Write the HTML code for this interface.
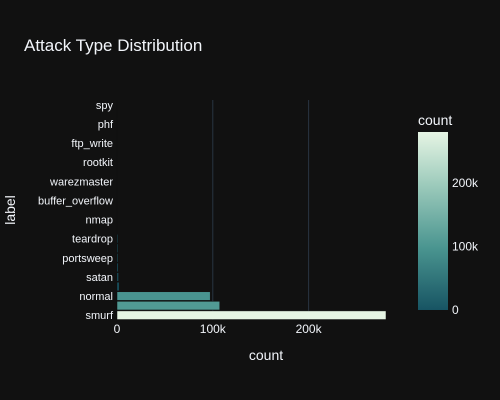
<!DOCTYPE html>
<html><head><meta charset="utf-8"><style>
body{margin:0;background:#111111;}
svg{display:block;font-family:"Liberation Sans",sans-serif;}
</style></head><body>
<svg id="chart" width="500" height="400">
<defs><linearGradient id="cs" x1="0" y1="1" x2="0" y2="0">
<stop offset="0" stop-color="#175463"/><stop offset="0.35" stop-color="#4a9590"/><stop offset="0.7" stop-color="#9ccabb"/><stop offset="1" stop-color="#e6f5e4"/></linearGradient></defs>
<rect width="500" height="400" fill="#111111"/>
<text x="24" y="51" fill="#f2f5fa" font-size="17">Attack Type Distribution</text>
<g id="grid"></g><g id="bars"></g><g id="ylabels"></g><g id="xlabels"></g>
<text x="266" y="360" fill="#f2f5fa" font-size="14" text-anchor="middle">count</text>
<text transform="translate(15,210) rotate(-90)" fill="#f2f5fa" font-size="14" text-anchor="middle">label</text>
<rect x="418" y="132" width="30" height="178" fill="url(#cs)"/>
<text x="418" y="125" fill="#f2f5fa" font-size="14">count</text>
<g id="cbticks"></g>
</svg>
<script>
const categories=["smurf","neptune","normal","back","satan","ipsweep","portsweep","warezclient","teardrop","pod","nmap","guess_passwd","buffer_overflow","land","warezmaster","imap","rootkit","loadmodule","ftp_write","multihop","phf","perl","spy"];
const counts=[280790,107201,97278,2203,1589,1247,1040,1020,979,264,231,53,30,21,20,12,10,9,8,7,4,3,2];
const xTicks=[0,100000,200000];
const xTickLabels=["0","100k","200k"];
const cbTicks=[0,100000,200000];
const cbTickLabels=["0","100k","200k"];
const NS="http://www.w3.org/2000/svg";
const x0=117,kx=0.000958;
const X=v=>x0+v*kx;
const yTop=100,yBot=320,step=(yBot-yTop)/categories.length;
const Y=i=>yBot-(i+0.5)*step;
const cbMax=Math.max(...counts),cbY=v=>310-v/cbMax*178;
function lerp(a,b,t){return Math.round(a+(b-a)*t);}
const stops=[[0,[23,84,99]],[0.35,[74,149,144]],[0.7,[156,202,187]],[1,[230,245,228]]];
function color(v){const t=v/cbMax;for(let i=1;i<stops.length;i++){if(t<=stops[i][0]){const a=stops[i-1],b=stops[i],u=(t-a[0])/(b[0]-a[0]);return `rgb(${lerp(a[1][0],b[1][0],u)},${lerp(a[1][1],b[1][1],u)},${lerp(a[1][2],b[1][2],u)})`;}}return "rgb(230,245,228)";}
function mk(tag,attrs,parent){const e=document.createElementNS(NS,tag);for(const k in attrs)e.setAttribute(k,attrs[k]);document.getElementById(parent).appendChild(e);return e;}
xTicks.forEach((v,i)=>{
 if(v>0){const l=mk("line",{x1:X(v),x2:X(v),y1:yTop,y2:yBot,stroke:"#283442","stroke-width":1},"grid");
 
 }
 const t=mk("text",{x:X(v),y:333,fill:"#f2f5fa","font-size":12,"text-anchor":"middle"},"xlabels");
 t.textContent=xTickLabels[i];
 
 
});
counts.forEach((v,i)=>{
 const r=mk("rect",{x:x0,y:Y(i)-step*0.45,width:Math.max(v*kx,0.3),height:step*0.9,fill:color(v),stroke:"#111111","stroke-width":0.5},"bars");
 
 
 if(i%2===0){const t=mk("text",{x:113,y:Y(i)+4,fill:"#f2f5fa","font-size":11,"text-anchor":"end"},"ylabels");
 t.textContent=categories[i];
 
 }
});
cbTicks.forEach((v,i)=>{
 const t=mk("text",{x:452,y:cbY(v)+4,fill:"#f2f5fa","font-size":12},"cbticks");
 t.textContent=cbTickLabels[i];
 
 
});
</script>
</body></html>
